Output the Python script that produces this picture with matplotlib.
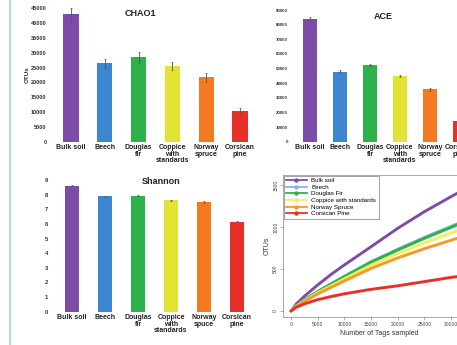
import matplotlib
matplotlib.use("Agg")
import matplotlib.pyplot as plt
from matplotlib.lines import Line2D

plt.rcParams['font.family'] = ['Liberation Sans', 'DejaVu Sans']

W, H = 457, 345

# ---------------- data ----------------
cats_top = ['Bulk soil', 'Beech', 'Douglas\nfir', 'Coppice\nwith\nstandards', 'Norway\nspruce', 'Corsican\npine']
cats_shannon = ['Bulk soil', 'Beech', 'Douglas\nfir', 'Coppice\nwith\nstandards', 'Norway\nspuce', 'Corsican\npine']
bar_colors = ['#7D4CA8', '#3D87D2', '#2DB24B', '#E2E332', '#F47A21', '#E8302B']

chao1 = [43000, 26400, 28450, 25600, 21700, 10500]
chao1_err = [2200, 1400, 1900, 1400, 1600, 900]
chao1_ticks = [0, 5000, 10000, 15000, 20000, 25000, 30000, 35000, 40000, 45000]

ace = [83900, 47900, 52400, 44900, 35800, 14350]
ace_err = [1500, 1000, 1000, 1000, 1100, 800]
ace_ticks = [0, 10000, 20000, 30000, 40000, 50000, 60000, 70000, 80000, 90000]

shannon = [8.6, 7.9, 7.92, 7.6, 7.5, 6.15]
shannon_err = [0.04, 0.04, 0.04, 0.04, 0.05, 0.04]
shannon_ticks = [0, 1, 2, 3, 4, 5, 6, 7, 8, 9]

rare_names = ['Bulk soil', 'Beech', 'Douglas Fir', 'Coppice with standards', 'Norway Spruce', 'Corsican Pine']
rare_colors = ['#7D4CA8', '#86B8E3', '#2DB24B', '#F0F060', '#F59A2A', '#E8302B']
tags = [0, 1000, 2500, 5000, 7500, 10000, 15000, 20000, 25000, 30000, 33000]
bulk_soil = [0, 85, 175, 310, 435, 548, 765, 984, 1182, 1361, 1465]
beech = [0, 62, 132, 234, 325, 414, 588, 735, 876, 1008, 1088]
douglas_fir = [0, 61, 130, 230, 320, 408, 580, 726, 865, 996, 1075]
coppice = [0, 57, 122, 217, 300, 383, 546, 681, 808, 928, 1000]
norway_spruce = [0, 54, 114, 203, 281, 358, 507, 632, 742, 842, 905]
corsican_pine = [0, 45, 85, 135, 172, 205, 258, 300, 350, 400, 425]
rare_series = [bulk_soil, beech, douglas_fir, coppice, norway_spruce, corsican_pine]
rare_xticks = [0, 5000, 10000, 15000, 20000, 25000, 30000]
rare_yticks = [0, 500, 1000, 1500]

# ---------------- layout helpers ----------------
fig = plt.figure(figsize=(W / 100, H / 100), dpi=100)


def px_axes(left, top, right, bottom):
    return fig.add_axes([left / W, 1 - bottom / H, (right - left) / W, (bottom - top) / H])


def bar_panel(ax, vals, errs, cats, ticks, ymax, title, title_xy, tick_fs):
    x = list(range(len(vals)))
    ax.bar(x, vals, width=0.45, color=bar_colors, zorder=2)
    ax.errorbar(x, vals, yerr=errs, fmt='none', ecolor='#555555', elinewidth=0.6,
                capsize=1.0, capthick=0.5, zorder=3)
    ax.set_xlim(-0.6, 5.6)
    ax.set_ylim(0, ymax)
    for s in ax.spines.values():
        s.set_visible(False)
    ax.set_yticks(ticks)
    ax.set_yticklabels([str(t) for t in ticks], fontsize=tick_fs, fontweight='bold', color='#333333')
    ax.set_xticks(x)
    ax.set_xticklabels(cats, fontsize=5.0, fontweight='bold', color='#222222', linespacing=0.95)
    ax.tick_params(axis='both', length=0, pad=1.5)
    ax.tick_params(axis='y', pad=3)
    ax.text(title_xy[0], title_xy[1], title, transform=ax.transAxes, ha='center', va='center',
            fontsize=6.5, fontweight='bold', color='#222222')


# CHAO1
ax1 = px_axes(50.7, 8.3, 260.3, 141.7)
bar_panel(ax1, chao1, chao1_err, cats_top, chao1_ticks, 45000, 'CHAO1', (0.43, 0.96), 4.0)
ax1.text(27 / W, 1 - 75 / H, 'OTUs', transform=fig.transFigure, rotation=90, ha='center', va='center',
         fontsize=4.5, fontweight='bold', color='#333333')

# ACE
ax2 = px_axes(292, 10, 478, 141.7)
bar_panel(ax2, ace, ace_err, cats_top, ace_ticks, 90000, 'ACE', (0.49, 0.95), 3.2)

# Shannon
ax3 = px_axes(52.2, 180, 256.8, 311.7)
bar_panel(ax3, shannon, shannon_err, cats_shannon, shannon_ticks, 9, 'Shannon', (0.53, 0.99), 4.2)

# Rarefaction
ax4 = px_axes(283, 175, 475, 317)
for name, ys, c in zip(rare_names, rare_series, rare_colors):
    ax4.plot(tags, ys, color=c, lw=2.1, label=name, solid_capstyle='round')
ax4.set_xlim(-1500, 34500)
ax4.set_ylim(-71, 1619)
ax4.set_xticks(rare_xticks)
ax4.set_xticklabels([str(t) for t in rare_xticks], fontsize=3.6, color='#444444')
ax4.set_yticks(rare_yticks)
ax4.set_yticklabels([str(t) for t in rare_yticks], fontsize=3.6, color='#444444', rotation=90, va='center')
ax4.tick_params(axis='both', length=2, width=0.5, color='#888888', pad=1.5)
for s in ax4.spines.values():
    s.set_color('#999999')
    s.set_linewidth(0.6)
ax4.set_xlabel('Number of Tags sampled', fontsize=5.0, color='#333333', labelpad=2)
ax4.set_ylabel('OTUs', fontsize=5.0, color='#333333', labelpad=2)
handles = [Line2D([0], [0], color=c, lw=1.3, marker='o', markersize=2.2) for c in rare_colors]
leg = ax4.legend(handles, rare_names, loc='upper left', bbox_to_anchor=(0.0, 1.0), borderaxespad=0.1,
                 fontsize=4.5, frameon=True, fancybox=False, handlelength=3.4, handletextpad=0.7,
                 labelspacing=0.2, borderpad=0.35)
leg.get_frame().set_edgecolor('#777777')
leg.get_frame().set_linewidth(0.6)

# left blue border line
fig.add_artist(Line2D([10 / W, 10 / W], [0, 1], transform=fig.transFigure, color='#A9CFEE', lw=1.3))

fig.savefig('out.png', dpi=100)
